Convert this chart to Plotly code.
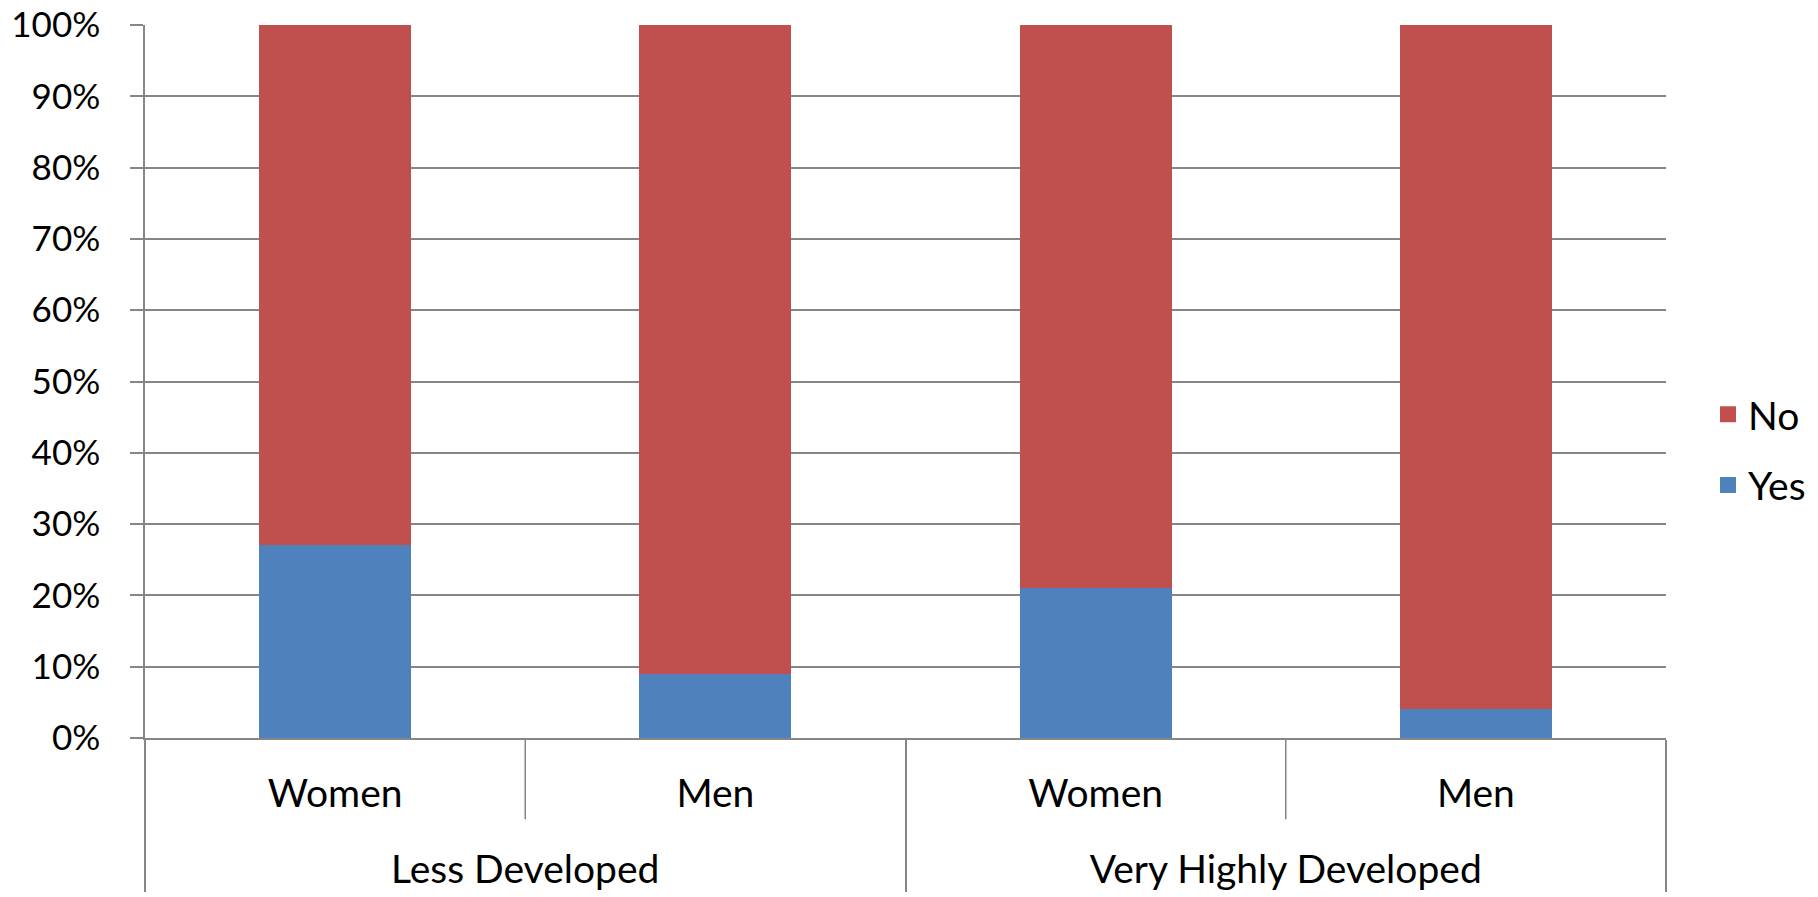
import plotly.graph_objects as go

# Survey answers by development level and gender (share of respondents, %)
groups = ["Less Developed", "Less Developed", "Very Highly Developed", "Very Highly Developed"]
genders = ["Women", "Men", "Women", "Men"]
yes_pct = [27, 9, 21, 4]
no_pct = [73, 91, 79, 96]

RED = "#C0504D"
BLUE = "#4F81BD"
GRID = "#868686"
FONT = "Lato"

# The inner labels get an empty second line so that the group labels
# sit further below them
SPACER = "<br><span style='font-size:26px'>&nbsp;</span>"
x = [groups, [g + SPACER for g in genders]]

fig = go.Figure()
fig.add_trace(go.Bar(x=x, y=yes_pct, name="Yes", marker=dict(color=BLUE, line=dict(width=0)),
                     showlegend=False, hoverinfo="y"))
fig.add_trace(go.Bar(x=x, y=no_pct, name="No", marker=dict(color=RED, line=dict(width=0)),
                     showlegend=False, hoverinfo="y"))

# Legend entries with larger square swatches
for name, color in [("No", RED), ("Yes", BLUE)]:
    fig.add_trace(go.Scatter(x=x, y=[None] * 4, mode="markers", name=name, legendgroup=name,
                             marker=dict(symbol="square", size=24, color=color)))

# Dividers between the gender categories inside each group
for pos in [0.5, 2.5]:
    fig.add_shape(type="line", xref="x", yref="paper", x0=pos, x1=pos, y0=0, y1=-0.114,
                  line=dict(color=GRID, width=1.5))

fig.update_layout(
    width=1818, height=897,
    margin=dict(l=145, r=152, t=25, b=159),
    barmode="stack", bargap=0.6,
    paper_bgcolor="white", plot_bgcolor="white",
    font=dict(family=FONT, size=39, color="black"),
    legend=dict(xref="container", x=0.9395, xanchor="left", y=0.404, yanchor="middle",
                itemsizing="trace", traceorder="grouped", tracegroupgap=17,
                font=dict(size=39)),
)
fig.update_yaxes(range=[0, 100], dtick=10, ticksuffix="%", showgrid=True, gridcolor=GRID,
                 gridwidth=1.5, showline=True, linecolor=GRID, linewidth=1.5,
                 ticks="outside", ticklen=13, tickcolor=GRID, tickwidth=1.5,
                 tickfont=dict(size=35), ticklabelstandoff=23, zeroline=False,
                 automargin=False)
fig.update_xaxes(type="multicategory", showline=True, linecolor=GRID, linewidth=1.5,
                 showdividers=True, dividercolor=GRID, dividerwidth=1.5,
                 ticks="outside", tickcolor=GRID, ticklen=6, ticklabelstandoff=20,
                 tickfont=dict(size=39), automargin=False)

fig.write_html("out.html")
